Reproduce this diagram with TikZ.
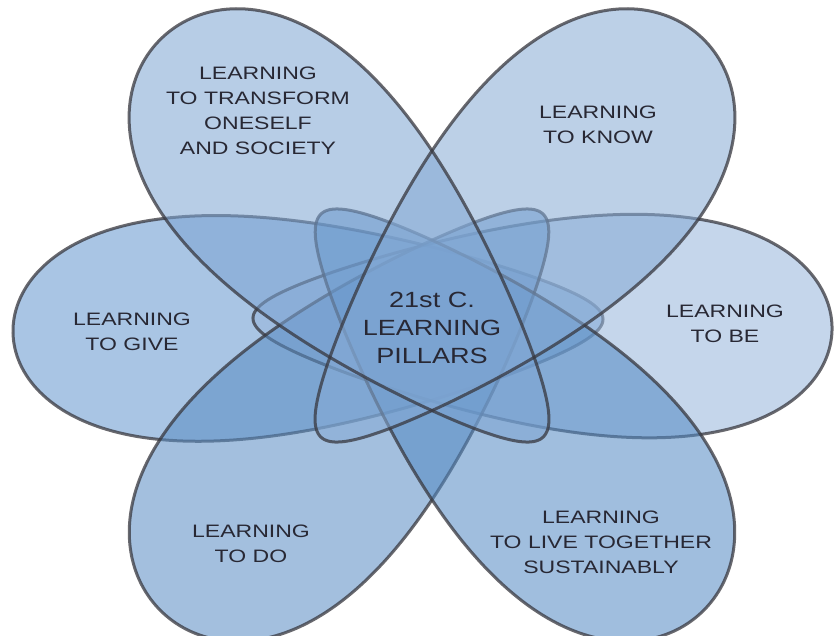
\documentclass[tikz,border=0pt]{standalone}
\usepackage{fontspec}
\setmainfont{Liberation Sans}
\usepackage{graphicx}
\definecolor{cTrans}{RGB}{124,164,211}
\definecolor{cKnow}{RGB}{133,170,213}
\definecolor{cGive}{RGB}{100,151,206}
\definecolor{cBe}{RGB}{151,182,220}
\definecolor{cDo}{RGB}{88,140,195}
\definecolor{cLive}{RGB}{82,137,195}
\definecolor{lineC}{RGB}{55,55,62}
\definecolor{txtC}{RGB}{40,40,52}
\tikzset{
  petalfill/.style={fill=#1, fill opacity=0.55},
  petalline/.style={draw=lineC, draw opacity=0.75, line width=2.25pt, line join=round},
  lbl/.style={text=txtC, inner sep=0pt, font=\fontsize{13.5}{18.75}\selectfont},
  clbl/.style={text=txtC, inner sep=0pt, font=\fontsize{16.5}{21}\selectfont}
}
% #1 cx, #2 cy, #3 a, #4 b, #5 k, #6 angle (image coords), #7 style
\newcommand{\petal}[7]{\path[#7] plot[domain=0:360, samples=241, variable=\t]
  ({#1 + #3*cos(\t)*cos(#6) - #4*sin(\t)*(1-#5*cos(\t))*sin(#6)},
   {#2 + #3*cos(\t)*sin(#6) + #4*sin(\t)*(1-#5*cos(\t))*cos(#6)}) -- cycle;}
\newcommand{\ptext}[2]{\scalebox{#1}[1]{\begin{tabular}{@{}c@{}}#2\end{tabular}}}
\begin{document}
\begin{tikzpicture}[x=0.75pt,y=-0.75pt]
\fill[white] (0,0) rectangle (834,635);
\useasboundingbox (0,0) rectangle (834,635);
% petals: give, be, do, live, transform, know
\petal{308}{326}{295.1}{104}{0.45}{-1.36}{petalfill=cGive, petalline}
\petal{542.5}{324}{289.6}{103}{0.45}{181.19}{petalfill=cBe, petalline}
\petal{352.5}{413}{275.5}{116}{0.45}{-46.25}{petalfill=cDo, petalline}
\petal{511.5}{413}{275.5}{116}{0.45}{-133.75}{petalfill=cLive, petalline}
\petal{352.5}{237.5}{276}{116}{0.45}{46.3}{petalfill=cTrans}
\petal{511.5}{237.5}{276}{116}{0.45}{133.7}{petalfill=cKnow}
\petal{352.5}{237.5}{276}{116}{0.45}{46.3}{petalline}
\petal{511.5}{237.5}{276}{116}{0.45}{133.7}{petalline}
% labels
\node[lbl] (transform) at (258,112.5) {\ptext{1.28}{LEARNING\\TO TRANSFORM\\ONESELF\\AND SOCIETY}};
\node[lbl] (know) at (598,126) {\ptext{1.28}{LEARNING\\TO KNOW}};
\node[lbl] (give) at (132,332.5) {\ptext{1.28}{LEARNING\\TO GIVE}};
\node[lbl] (be) at (725,325) {\ptext{1.28}{LEARNING\\TO BE}};
\node[lbl] (do) at (251,544.5) {\ptext{1.28}{LEARNING\\TO DO}};
\node[lbl] (live) at (601,543) {\ptext{1.28}{LEARNING\\TO LIVE TOGETHER\\SUSTAINABLY}};
\node[clbl] (center) at (432,330) {\ptext{1.23}{21st C.\\LEARNING\\PILLARS}};
\end{tikzpicture}
\end{document}
